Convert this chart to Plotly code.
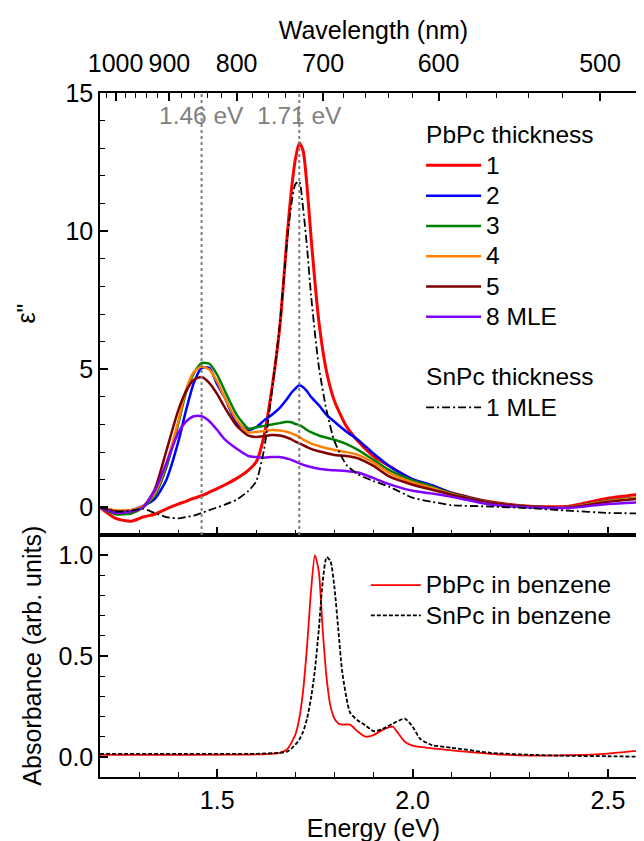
import plotly.graph_objects as go

# photon energy grid (eV) for the thin-film epsilon'' spectra
energy = [1.20, 1.24, 1.28, 1.31, 1.34, 1.37, 1.40, 1.42, 1.44, 1.46, 1.48, 1.50, 1.52, 1.55, 1.58,
          1.60, 1.62, 1.64, 1.66, 1.68, 1.69, 1.70, 1.71, 1.72, 1.73, 1.74, 1.76, 1.78, 1.80, 1.83,
          1.86, 1.90, 1.94, 2.00, 2.05, 2.10, 2.20, 2.30, 2.40, 2.50, 2.60]

pbpc_1 = [0.0, -0.4, -0.5, -0.35, -0.25, -0.05, 0.12, 0.22, 0.33, 0.42, 0.55, 0.68, 0.82, 1.05, 1.35,
          1.65, 2.6, 4.3, 6.5, 10.0, 11.5, 12.6, 13.2, 12.9, 11.6, 9.8, 6.75, 4.9, 3.85, 2.95,
          2.4, 1.85, 1.5, 1.0, 0.78, 0.52, 0.2, 0.04, 0.04, 0.33, 0.5]
pbpc_2 = [0.0, -0.12, -0.1, 0.05, 0.3, 1.0, 2.35, 3.5, 4.5, 5.05, 5.05, 4.45, 3.95, 3.05, 2.8,
          2.9, 3.15, 3.35, 3.6, 3.95, 4.15, 4.3, 4.42, 4.35, 4.2, 4.0, 3.7, 3.35, 3.1, 2.75,
          2.45, 1.95, 1.5, 1.02, 0.8, 0.52, 0.18, 0.03, 0.01, 0.24, 0.38]
pbpc_3 = [0.0, -0.25, -0.22, 0.0, 0.42, 1.45, 3.0, 4.15, 4.85, 5.22, 5.2, 4.8, 4.2, 3.35, 2.85,
          2.9, 2.95, 3.0, 3.05, 3.1, 3.08, 3.02, 2.98, 2.9, 2.8, 2.72, 2.6, 2.52, 2.45, 2.3,
          2.08, 1.72, 1.35, 0.98, 0.75, 0.5, 0.18, 0.03, 0.01, 0.24, 0.38]
pbpc_4 = [0.0, -0.1, -0.1, 0.05, 0.5, 1.6, 3.1, 4.25, 4.9, 5.1, 4.98, 4.55, 3.95, 3.15, 2.72,
          2.73, 2.76, 2.8, 2.78, 2.73, 2.68, 2.62, 2.55, 2.45, 2.38, 2.32, 2.22, 2.14, 2.08, 2.0,
          1.9, 1.62, 1.25, 0.9, 0.7, 0.48, 0.17, 0.03, 0.01, 0.23, 0.37]
pbpc_5 = [0.0, -0.15, -0.15, 0.0, 0.65, 2.05, 3.5, 4.2, 4.62, 4.72, 4.5, 4.1, 3.6, 2.95, 2.6,
          2.55, 2.58, 2.62, 2.6, 2.52, 2.46, 2.38, 2.32, 2.25, 2.18, 2.12, 2.03, 1.96, 1.9, 1.86,
          1.78, 1.5, 1.12, 0.82, 0.64, 0.46, 0.17, 0.03, 0.0, 0.2, 0.34]
pbpc_8 = [0.0, -0.2, -0.15, 0.0, 0.6, 1.6, 2.7, 3.1, 3.3, 3.3, 3.12, 2.8, 2.45, 2.12, 1.86,
          1.82, 1.8, 1.82, 1.82, 1.76, 1.72, 1.66, 1.6, 1.54, 1.5, 1.46, 1.4, 1.36, 1.34, 1.32,
          1.26, 1.06, 0.84, 0.6, 0.5, 0.38, 0.1, 0.0, -0.02, 0.12, 0.2]
snpc_1 = [0.0, -0.15, -0.12, -0.05, -0.2, -0.35, -0.4, -0.35, -0.3, -0.2, -0.1, 0.0, 0.1, 0.28, 0.6,
          0.95, 2.1, 4.2, 6.6, 9.8, 11.0, 11.7, 11.8, 10.8, 9.4, 7.7, 5.1, 3.5, 2.4, 1.55,
          1.2, 0.95, 0.75, 0.35, 0.2, 0.08, 0.03, -0.03, -0.12, -0.2, -0.22]

film_names = ["1", "2", "3", "4", "5", "8 MLE"]
film_colors = ["#ff0000", "#0000ff", "#008000", "#ff8000", "#800000", "#8000ff"]
film_widths = [3, 2.5, 2.5, 2.5, 2.5, 2.5]

# solution absorbance spectra (normalised)
sol_energy = [1.20, 1.40, 1.60, 1.66, 1.68, 1.70, 1.71, 1.72, 1.73, 1.74, 1.75, 1.76, 1.77, 1.78,
              1.79, 1.80, 1.81, 1.82, 1.84, 1.86, 1.88, 1.90, 1.92, 1.94, 1.95, 1.96, 1.98, 2.00,
              2.02, 2.05, 2.10, 2.20, 2.30, 2.40, 2.50, 2.60]
pbpc_benzene = [0.01, 0.01, 0.012, 0.02, 0.04, 0.11, 0.19, 0.33, 0.55, 0.82, 1.0, 0.92, 0.63, 0.39,
                0.25, 0.19, 0.165, 0.16, 0.16, 0.125, 0.1, 0.108, 0.13, 0.147, 0.149, 0.125, 0.075, 0.056,
                0.049, 0.042, 0.032, 0.015, 0.006, 0.008, 0.016, 0.035]
snpc_benzene = [0.015, 0.015, 0.015, 0.02, 0.027, 0.06, 0.085, 0.125, 0.19, 0.29, 0.43, 0.63, 0.87, 0.99,
                0.97, 0.84, 0.63, 0.42, 0.22, 0.18, 0.155, 0.127, 0.135, 0.155, 0.165, 0.175, 0.19, 0.15,
                0.088, 0.058, 0.045, 0.02, 0.01, 0.005, 0.003, 0.0]

marker_energies = [1.46, 1.71]
marker_labels = ["1.46 eV", "1.71 eV"]

wl_major = [1000, 900, 800, 700, 600, 500]
wl_minor = [1020, 980, 960, 940, 920, 880, 860, 840, 820, 780, 760, 740, 720,
            680, 660, 640, 620, 580, 560, 540, 520, 480]

HC = 1239.84
FONT = "Liberation Sans, Arial, sans-serif"
split = 0.3538


def big(s):
    # legend rows keep a tight 21px pitch while the text itself is drawn larger
    return '<span style="font-size:24.5px">' + s + '</span>'


fig = go.Figure()

for name, color, w, vals in zip(film_names, film_colors, film_widths,
                                [pbpc_1, pbpc_2, pbpc_3, pbpc_4, pbpc_5, pbpc_8]):
    fig.add_trace(go.Scatter(x=energy, y=vals, name=big(name), mode="lines",
                             line=dict(color=color, width=w, shape="spline", smoothing=0.6),
                             legendgroup="pbpc",
                             legendgrouptitle=dict(text=big("PbPc thickness"), font=dict(size=21)),
                             xaxis="x", yaxis="y", legend="legend"))

fig.add_trace(go.Scatter(x=energy, y=snpc_1, name=big("1 MLE"), mode="lines",
                         line=dict(color="black", width=1.8, dash="8px,3px,2px,3px",
                                   shape="spline", smoothing=0.6),
                         legendgroup="snpc",
                         legendgrouptitle=dict(text=big("SnPc thickness"), font=dict(size=21)),
                         xaxis="x", yaxis="y", legend="legend"))

# empty trace so the wavelength axis on top gets drawn
fig.add_trace(go.Scatter(x=energy, y=[None] * len(energy), xaxis="x3", yaxis="y",
                         showlegend=False, hoverinfo="skip", mode="lines"))

fig.add_trace(go.Scatter(x=sol_energy, y=pbpc_benzene, name=big("PbPc in benzene"), mode="lines",
                         line=dict(color="#ff0000", width=1.8, shape="spline", smoothing=0.6),
                         xaxis="x2", yaxis="y2", legend="legend2"))
fig.add_trace(go.Scatter(x=sol_energy, y=snpc_benzene, name=big("SnPc in benzene"), mode="lines",
                         line=dict(color="black", width=1.8, dash="4px,2px", shape="spline", smoothing=0.6),
                         xaxis="x2", yaxis="y2", legend="legend2"))

for e, lab in zip(marker_energies, marker_labels):
    fig.add_shape(type="line", xref="x", yref="y domain", x0=e, x1=e, y0=0, y1=1,
                  line=dict(color="#808080", width=2, dash="dot"))
    fig.add_annotation(x=e, y=14.2, xref="x", yref="y", text=lab, showarrow=False,
                       font=dict(size=24.5, color="#808080", family=FONT))

# y-axis titles, placed by hand so both panels line up like the original
fig.add_annotation(text='ε"', xref="paper", yref="paper", x=-0.136, y=(1 + split) / 2,
                   textangle=-90, showarrow=False, xanchor="center", yanchor="middle",
                   font=dict(size=25, color="black", family=FONT))
fig.add_annotation(text="Absorbance (arb. units)", xref="paper", yref="paper", x=-0.125, y=split / 2,
                   textangle=-90, showarrow=False, xanchor="center", yanchor="middle",
                   font=dict(size=25, color="black", family=FONT))

axis_common = dict(showline=True, linecolor="black", linewidth=1.5, ticks="inside",
                   ticklen=8, tickwidth=1.5, tickcolor="black", showgrid=False, zeroline=False,
                   tickfont=dict(size=25, color="black", family=FONT))
minor_common = dict(ticks="inside", ticklen=5, tickwidth=1.2, tickcolor="black", showgrid=False)

fig.update_layout(
    width=644, height=841,
    margin=dict(l=92, r=3, t=85, b=72),
    plot_bgcolor="white", paper_bgcolor="white",
    font=dict(family=FONT, size=25, color="black"),
    showlegend=True,
    xaxis=dict(domain=[0, 1], anchor="y", range=[1.2, 2.6], tick0=1.5, dtick=0.5,
               showticklabels=False, mirror=True, minor=dict(dtick=0.1, **minor_common),
               **axis_common),
    yaxis=dict(domain=[split, 1], anchor="x", range=[-1, 15], tick0=0, dtick=5, mirror="ticks",
               minor=dict(dtick=1, **minor_common), **axis_common),
    xaxis3=dict(overlaying="x", anchor="y", side="top", range=[1.2, 2.6],
                tickmode="array", tickvals=[HC / w for w in wl_major],
                ticktext=[str(w) for w in wl_major],
                minor=dict(tickmode="array", tickvals=[HC / w for w in wl_minor], **minor_common),
                title=dict(text="Wavelength (nm)", font=dict(size=25), standoff=3),
                ticklabelstandoff=9, **axis_common),
    xaxis2=dict(domain=[0, 1], anchor="y2", range=[1.2, 2.6], tick0=1.5, dtick=0.5,
                tickformat=".1f", mirror=True, minor=dict(dtick=0.1, **minor_common),
                title=dict(text="Energy (eV)", font=dict(size=25), standoff=2),
                **axis_common),
    yaxis2=dict(domain=[0, split], anchor="x2", range=[-0.1, 1.1], tick0=0, dtick=0.5,
                tickformat=".1f", mirror="ticks", minor=dict(dtick=0.1, **minor_common),
                **axis_common),
    legend=dict(x=0.587, y=0.968, xanchor="left", yanchor="top", bgcolor="rgba(0,0,0,0)",
                font=dict(size=21), tracegroupgap=30, grouptitlefont=dict(size=21),
                itemwidth=55),
    legend2=dict(x=0.486, y=0.31, xanchor="left", yanchor="top", bgcolor="rgba(0,0,0,0)",
                 font=dict(size=21), itemwidth=50),
)

fig.write_html("out.html")
